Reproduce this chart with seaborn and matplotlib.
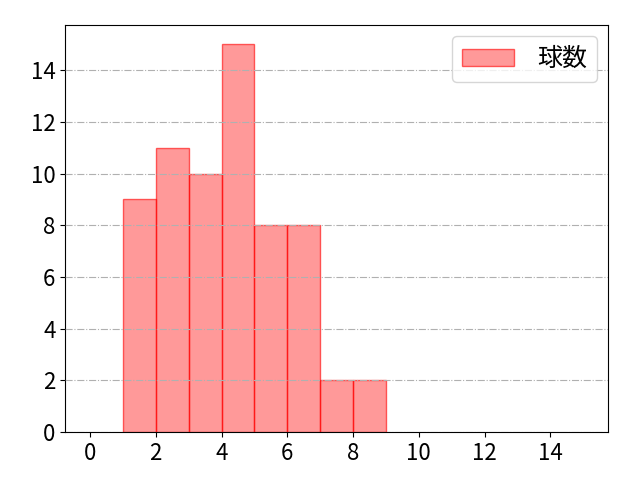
import matplotlib
matplotlib.use("Agg")
import matplotlib.pyplot as plt
import seaborn as sns

# pitch counts per bin (bins of width 1)
bin_edges = [1, 2, 3, 4, 5, 6, 7, 8, 9]
counts = [9, 11, 10, 15, 8, 8, 2, 2]
label = "球数"

plt.rcParams['font.family'] = ['Noto Sans CJK JP', 'DejaVu Sans']

fig, ax = plt.subplots(figsize=(6.4, 4.8), dpi=100)

centers = [(a + b) / 2 for a, b in zip(bin_edges[:-1], bin_edges[1:])]
sns.histplot(x=centers, weights=counts, bins=bin_edges, ax=ax,
             color='red', alpha=0.4, edgecolor=(1, 0, 0, 0.6),
             linewidth=1.0, label=label)

ax.set_xlim(-0.75, 15.75)
ax.set_ylim(0, 15.75)
ax.set_xticks(range(0, 16, 2))
ax.set_yticks(range(0, 16, 2))
ax.set_xlabel("")
ax.set_ylabel("")
ax.tick_params(labelsize=16)
ax.set_axisbelow(False)
ax.grid(axis='y', linestyle='-.', color='#b0b0b0', linewidth=0.8)
ax.legend(fontsize=18, handlelength=2.1, handletextpad=0.9,
          borderaxespad=0.45, loc='upper right')

fig.subplots_adjust(left=0.102, right=0.95, top=0.948, bottom=0.1)
plt.savefig("out.png", dpi=100)
